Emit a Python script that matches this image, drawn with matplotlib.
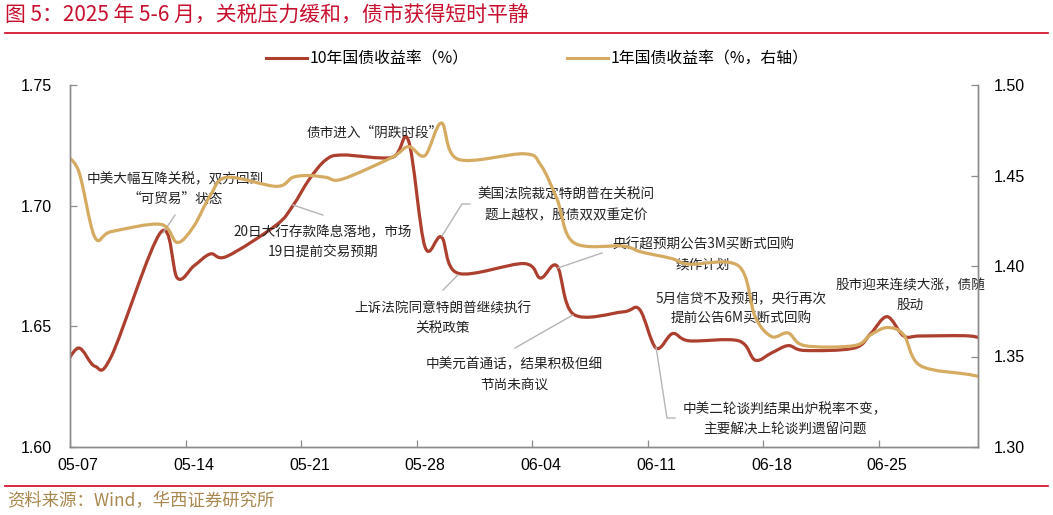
import numpy as np
import pandas as pd
import matplotlib
matplotlib.use('Agg')
import matplotlib.pyplot as plt
import matplotlib.dates as mdates
from matplotlib.path import Path
from matplotlib.patches import PathPatch
from matplotlib.lines import Line2D

plt.rcParams['font.family'] = ['Noto Sans CJK SC', 'DejaVu Sans']

# trading days (05-06 and 07-01 only show as the clipped line ends)
dates = ['05-06', '05-07', '05-08', '05-09', '05-12', '05-13', '05-14', '05-15', '05-16',
         '05-19', '05-20', '05-21', '05-22', '05-23', '05-26', '05-27', '05-28', '05-29',
         '05-30', '06-03', '06-04', '06-05', '06-06', '06-09', '06-10', '06-11', '06-12',
         '06-13', '06-16', '06-17', '06-18', '06-19', '06-20', '06-23', '06-24', '06-25',
         '06-26', '06-27', '06-30', '07-01']

# 10y CGB yield, left axis
y10 = [1.631, 1.641, 1.6335, 1.6375, 1.689, 1.670, 1.675, 1.680, 1.679,
       1.692, 1.700, 1.711, 1.719, 1.721, 1.720, 1.727, 1.683, 1.687,
       1.672, 1.676, 1.670, 1.675, 1.655, 1.656, 1.657, 1.641, 1.647,
       1.644, 1.644, 1.636, 1.639, 1.642, 1.640, 1.641, 1.647, 1.654,
       1.646, 1.646, 1.646, 1.644]

# 1y CGB yield, right axis
y1 = [1.462, 1.453, 1.416, 1.419, 1.423, 1.413, 1.422, 1.439, 1.449,
      1.444, 1.449, 1.450, 1.449, 1.448, 1.460, 1.466, 1.461, 1.479,
      1.459, 1.462, 1.456, 1.437, 1.413, 1.411, 1.408, 1.406, 1.404,
      1.401, 1.400, 1.372, 1.361, 1.363, 1.356, 1.356, 1.362, 1.366,
      1.362, 1.345, 1.340, 1.338]

xtick_labels = ['05-07', '05-14', '05-21', '05-28', '06-04', '06-11', '06-18', '06-25']
left_ticks = [1.60, 1.65, 1.70, 1.75]
right_ticks = [1.30, 1.35, 1.40, 1.45, 1.50]

label_10y = '10年国债收益率（%）'
label_1y = '1年国债收益率（%，右轴）'
title = '图 5：2025 年 5-6 月，关税压力缓和，债市获得短时平静'
source = '资料来源：Wind，华西证券研究所'

# annotations: text, (day offset from 05-07, left-axis value), leader path
notes = [
    ('中美大幅互降关税，双方回到\n“可贸易”状态', (5.86, 1.7069), [(5.86, 1.6961), (5.13, 1.6887)]),
    ('20日大行存款降息落地，市场\n19日提前交易预期', (14.82, 1.6849), [(14.82, 1.6961), (13.0, 1.7003)]),
    ('债市进入“阴跌时段”', (17.97, 1.7301), None),
    ('美国法院裁定特朗普在关税问\n题上越权，股债双双重定价', (29.54, 1.7003),
     [(23.72, 1.7007), (23.24, 1.7007), (22.03, 1.6874)]),
    ('上诉法院同意特朗普继续执行\n关税政策', (22.09, 1.6532), [(22.09, 1.665), (23.0, 1.6713)]),
    ('中美元首通话，结果积极但细\n节尚未商议', (26.39, 1.630), [(26.45, 1.641), (29.96, 1.6547)]),
    ('央行超预期公告3M买断式回购\n续作计划', (37.84, 1.6796), [(31.72, 1.6804), (29.06, 1.6742)]),
    ('5月信贷不及预期，央行再次\n提前公告6M买断式回购', (40.14, 1.6572), None),
    ('中美二轮谈判结果出炉税率不变，\n主要解决上轮谈判遗留问题', (42.8, 1.6114),
     [(36.14, 1.612), (35.66, 1.612), (35.0, 1.6414)]),
    ('股市迎来连续大涨，债随\n股动', (50.38, 1.663), None),
]

RED = '#AD3F2E'
GOLD = '#D5AB62'
GRID_GREY = '#8C8C8C'


def smooth_path(x, y):
    # excel-style smoothed line: cubic bezier through every point
    pts = np.column_stack([x, y])
    n = len(pts)
    verts = [pts[0]]
    codes = [Path.MOVETO]
    for i in range(n - 1):
        p0 = pts[i - 1] if i > 0 else pts[i]
        p1 = pts[i]
        p2 = pts[i + 1]
        p3 = pts[i + 2] if i + 2 < n else pts[i + 1]
        verts += [p1 + (p2 - p0) / 6, p2 - (p3 - p1) / 6, p2]
        codes += [Path.CURVE4] * 3
    return Path(verts, codes)


x = mdates.date2num(pd.to_datetime(['2025-' + d for d in dates]))
base = mdates.date2num(pd.Timestamp('2025-05-07'))
xt = mdates.date2num(pd.to_datetime(['2025-' + d for d in xtick_labels]))

fig = plt.figure(figsize=(10.53, 5.15), dpi=100)
ax = fig.add_axes([70 / 1053, 1 - 447 / 515, 908 / 1053, 362 / 515])
ax2 = ax.twinx()

ax.add_patch(PathPatch(smooth_path(x, y10), fill=False, edgecolor=RED, lw=2.3,
                       capstyle='round', joinstyle='round'))
ax2.add_patch(PathPatch(smooth_path(x, y1), fill=False, edgecolor=GOLD, lw=2.3,
                        capstyle='round', joinstyle='round'))

ax.set_xlim(base - 0.5, base + 54.5)
ax.set_ylim(1.60, 1.75)
ax2.set_ylim(1.30, 1.50)

ax.set_xticks(xt - 0.5)
ax.set_xticklabels([])
ax.set_xticks(xt, xtick_labels, minor=True)
ax.tick_params(axis='x', which='minor', length=0, pad=8)
ax.set_yticks(left_ticks, [f'{v:.2f}' for v in left_ticks])
ax2.set_yticks(right_ticks, [f'{v:.2f}' for v in right_ticks])

for a in (ax, ax2):
    a.tick_params(which='major', direction='in', length=5, width=0.9, color=GRID_GREY,
                  labelsize=11)
    a.spines['top'].set_visible(False)
    for s in ('left', 'right', 'bottom'):
        a.spines[s].set_color(GRID_GREY)
        a.spines[s].set_linewidth(1.0)
ax.tick_params(axis='y', pad=13)
ax2.tick_params(axis='y', pad=11)
for lab in ax.get_xticklabels(minor=True) + ax.get_yticklabels() + ax2.get_yticklabels():
    lab.set_fontfamily('Liberation Sans')
    lab.set_fontsize(11.5)

for txt, (dx, dy), leader in notes:
    ax.text(base + dx, dy, txt, ha='center', va='center', multialignment='center',
            fontsize=9.8, linespacing=1.55, color='#222222', clip_on=False, zorder=5)
    if leader:
        lx = [base + p[0] for p in leader]
        ly = [p[1] for p in leader]
        ax.plot(lx, ly, color='#B5B5B5', lw=1.0, zorder=4)

handles = [Line2D([], [], color=RED, lw=2.2), Line2D([], [], color=GOLD, lw=2.2)]
fig.legend(handles, [label_10y, label_1y], loc='center left', ncol=2,
           bbox_to_anchor=(266 / 1053, 1 - 59 / 515), frameon=False, fontsize=11.4,
           handlelength=2.6, handletextpad=0.15, columnspacing=6.2, borderpad=0,
           borderaxespad=0)

fig.text(5 / 1053, 1 - 16 / 515, title, color='#C8102E', fontsize=15, va='center', ha='left')
fig.add_artist(Line2D([0.005, 0.995], [1 - 33 / 515, 1 - 33 / 515], color='#D0021B', lw=1.2))
fig.add_artist(Line2D([0.005, 0.995], [1 - 486 / 515, 1 - 486 / 515], color='#D0021B', lw=1.2))
fig.text(7 / 1053, 1 - 501 / 515, source, color='#A8884E', fontsize=12.5, va='center', ha='left')

fig.savefig('out.png', dpi=100)
